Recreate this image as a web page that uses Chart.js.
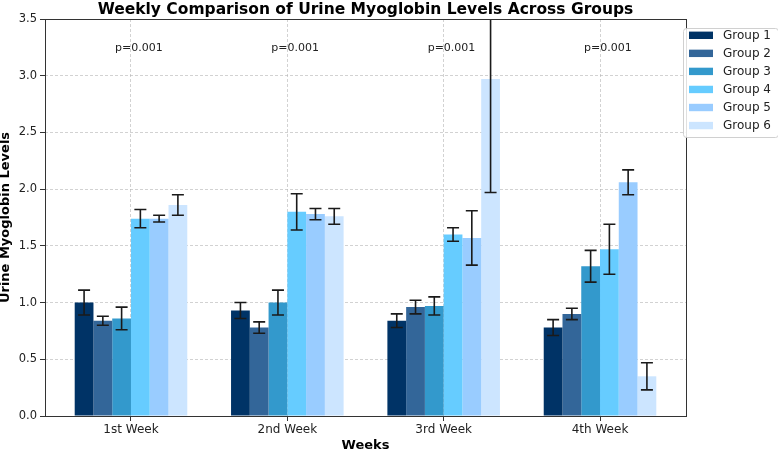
<!DOCTYPE html>
<html>
<head>
<meta charset="utf-8">
<script src="https://cdn.jsdelivr.net/npm/chart.js@4.4.0/dist/chart.umd.min.js"></script>
<style>
html,body{margin:0;padding:0;background:#fff;}
canvas{display:block;}
</style>
</head>
<body>
<canvas id="chart" width="778" height="452"></canvas>
<script>
const weeks=["1st Week","2nd Week","3rd Week","4th Week"];
const groups=["Group 1","Group 2","Group 3","Group 4","Group 5","Group 6"];
const colors=["#003366","#336699","#3399CC","#66CCFF","#99CCFF","#CCE5FF"];

const group1=[1.00,0.93,0.84,0.78], group1Err=[0.11,0.07,0.06,0.07];
const group2=[0.84,0.78,0.96,0.90], group2Err=[0.04,0.05,0.06,0.05];
const group3=[0.86,1.00,0.97,1.32], group3Err=[0.10,0.11,0.08,0.14];
const group4=[1.74,1.80,1.60,1.47], group4Err=[0.08,0.16,0.06,0.22];
const group5=[1.74,1.78,1.57,2.06], group5Err=[0.03,0.05,0.24,0.11];
const group6=[1.86,1.76,2.97,0.35], group6Err=[0.09,0.07,1.00,0.12];

const pLabels=["p=0.001","p=0.001","p=0.001","p=0.001"];
const yTicks=[0,0.5,1.0,1.5,2.0,2.5,3.0,3.5];

const series=[group1,group2,group3,group4,group5,group6];
const errs=[group1Err,group2Err,group3Err,group4Err,group5Err,group6Err];
const FONT="'DejaVu Sans', sans-serif";

// error bars, clipped to the plot box
const errorBars={id:"errorBars",afterDatasetsDraw(chart){
 const {ctx,chartArea:a,scales:{y}}=chart;
 ctx.save();
 ctx.beginPath();ctx.rect(a.left,a.top,a.right-a.left,a.bottom-a.top);ctx.clip();
 ctx.strokeStyle="#1a1a1a";ctx.lineWidth=1.6;
 chart.data.datasets.forEach((ds,di)=>{
   chart.getDatasetMeta(di).data.forEach((bar,i)=>{
     const v=ds.data[i].y,e=errs[di][i];
     const yt=y.getPixelForValue(v+e),yb=y.getPixelForValue(v-e);
     ctx.beginPath();
     ctx.moveTo(bar.x,yt);ctx.lineTo(bar.x,yb);
     ctx.moveTo(bar.x-6,yt);ctx.lineTo(bar.x+6,yt);
     ctx.moveTo(bar.x-6,yb);ctx.lineTo(bar.x+6,yb);
     ctx.stroke();
   });
 });
 ctx.restore();
}};

// frame, titles, p-values, legend
const decor={id:"decor",afterDraw(chart){
 const {ctx,chartArea:a,scales:{x,y}}=chart;
 ctx.save();
 ctx.strokeStyle="#333";ctx.lineWidth=1;
 ctx.strokeRect(a.left+0.5,a.top+0.5,a.right-a.left,a.bottom-a.top);

 ctx.fillStyle="#000";
 ctx.font="bold 15.5px "+FONT;ctx.textAlign="center";ctx.textBaseline="alphabetic";
 ctx.fillText("Weekly Comparison of Urine Myoglobin Levels Across Groups",(a.left+a.right)/2,14);

 ctx.font="bold 13px "+FONT;ctx.textBaseline="middle";
 ctx.fillText("Weeks",(a.left+a.right)/2,446);
 ctx.save();ctx.translate(6,(a.top+a.bottom)/2);ctx.rotate(-Math.PI/2);
 ctx.fillText("Urine Myoglobin Levels",0,0);ctx.restore();

 ctx.font="11px "+FONT;ctx.fillStyle="#222";
 pLabels.forEach((p,i)=>ctx.fillText(p,x.getPixelForValue(i+0.05),y.getPixelForValue(3.245)));

 // legend
 const lx=683,ly=28,lw=95,lh=109;
 ctx.fillStyle="rgba(255,255,255,0.85)";ctx.strokeStyle="#d0d0d0";ctx.lineWidth=1;
 ctx.beginPath();ctx.roundRect(lx+0.5,ly+0.5,lw,lh,3);ctx.fill();ctx.stroke();
 ctx.font="12px "+FONT;ctx.textAlign="left";ctx.textBaseline="middle";
 groups.forEach((g,i)=>{
   const cy=35.3+i*18.05;
   ctx.fillStyle=colors[i];ctx.fillRect(689,cy-3.7,24,7.4);
   ctx.fillStyle="#222";ctx.fillText(g,723,cy+0.5);
 });
 ctx.restore();
}};

new Chart(document.getElementById("chart"),{
 type:"bar",
 data:{datasets:groups.map((g,i)=>({
   label:g,
   data:series[i].map((v,k)=>({x:k,y:v})),
   backgroundColor:colors[i],
   borderWidth:0,
   categoryPercentage:0.72,
   barPercentage:1
 }))},
 options:{
   responsive:false,animation:false,devicePixelRatio:1,
   layout:{padding:{top:19,right:92,left:0,bottom:0}},
   plugins:{legend:{display:false},tooltip:{enabled:false},title:{display:false}},
   scales:{
     x:{type:"linear",min:-0.55,max:3.55,offset:false,
       afterBuildTicks:s=>{s.ticks=weeks.map((w,i)=>({value:i}));},
       afterFit:s=>{s.height=36;},
       ticks:{callback:v=>weeks[v]??"",font:{family:FONT,size:12},color:"#222",padding:2,maxRotation:0,autoSkip:false},
       grid:{offset:false,color:"rgba(180,180,180,0.75)",lineWidth:0.8,tickLength:5,tickColor:"#333",tickWidth:1,tickBorderDash:[]},
       border:{display:false,dash:[3,2]}},
     y:{min:0,max:3.5,
       afterBuildTicks:s=>{s.ticks=yTicks.map(v=>({value:v}));},
       afterFit:s=>{s.width=45;},
       ticks:{callback:v=>Number(v).toFixed(1),font:{family:FONT,size:11.5},color:"#222",padding:3},
       grid:{color:"rgba(180,180,180,0.75)",lineWidth:0.8,tickLength:5,tickColor:"#333",tickWidth:1,tickBorderDash:[]},
       border:{display:false,dash:[3,2]}}
   }
 },
 plugins:[errorBars,decor]
});
</script>
</body>
</html>
